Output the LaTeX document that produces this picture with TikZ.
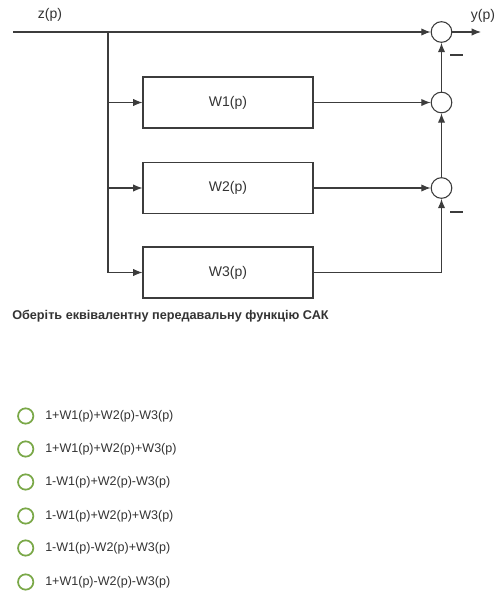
\documentclass[tikz,border=0pt]{standalone}
\usepackage{fontspec}
\setmainfont{Liberation Sans}
\usetikzlibrary{arrows.meta,positioning}
\definecolor{linegray}{RGB}{60,60,60}
\definecolor{textgray}{RGB}{51,51,51}
\definecolor{radiogreen}{RGB}{122,168,72}

\begin{document}
\begin{tikzpicture}[x=0.75pt,y=-0.75pt,
  every node/.style={font=\fontsize{10.5}{12}\selectfont,text=textgray},
  block/.style={draw=linegray,line width=0.8pt,minimum width=127.5pt,minimum height=38.25pt,inner sep=0pt},
  sumnode/.style={draw=linegray,line width=0.8pt,circle,minimum size=15.5pt,inner sep=0pt},
  sig/.style={draw=linegray,line width=0.8pt},
  arr/.style={sig,-{Latex[length=7pt,width=5.5pt]}},
  radio/.style={draw=radiogreen,line width=1.3pt,circle,minimum size=11.5pt,inner sep=0pt},
  answer/.style={anchor=west,inner sep=0pt,font=\fontsize{9.4}{11}\selectfont}]
  \useasboundingbox (0,0) rectangle (502,603);
  % blocks
  \node[block] (w1) at (228,102.5) {W1(p)};
  \node[block] (w2) at (228,188) {W2(p)};
  \node[block] (w3) at (228,272.5) {W3(p)};
  % summing junctions
  \node[sumnode] (s1) at (441.5,32) {};
  \node[sumnode] (s2) at (441.5,102.5) {};
  \node[sumnode] (s3) at (441.5,188) {};
  % input, branch point, output
  \coordinate (in) at (13,32);
  \coordinate (br) at (108,32);
  \coordinate (out) at (481,32);
  \node (zp) at (50,15) {z(p)};
  \node (yp) at (483,16) {y(p)};
  \draw[arr] (in) -- (s1);
  \draw[arr] (br) |- (w1.west);
  \draw[arr] (br) |- (w2.west);
  \draw[arr] (br) |- (w3.west);
  \draw[arr] (w1.east) -- (s2.west);
  \draw[arr] (w2.east) -- (s3.west);
  \draw[arr] (w3.east) -| (s3.south);
  \draw[arr] (s3) -- (s2);
  \draw[arr] (s2) -- (s1);
  \draw[arr] (s1) -- (out);
  % minus signs
  \draw[sig] (450,55) -- (463,55);
  \draw[sig] (450,212) -- (463,212);
  % question
  \node[anchor=west,inner sep=0pt,font=\bfseries\fontsize{9.5}{11}\selectfont] (q) at (12,316)
    {Оберіть еквівалентну передавальну функцію САК};
  % answers
  \foreach \y/\t [count=\i] in {416/{1+W1(p)+W2(p)-W3(p)},449/{1+W1(p)+W2(p)+W3(p)},
      482/{1-W1(p)+W2(p)-W3(p)},516/{1-W1(p)+W2(p)+W3(p)},
      548/{1-W1(p)-W2(p)+W3(p)},582/{1+W1(p)-W2(p)-W3(p)}}{
    \node[radio] (r\i) at (25.7,\y) {};
    \node[answer] (a\i) at (45,\y) {\t};
  }
\end{tikzpicture}
\end{document}
